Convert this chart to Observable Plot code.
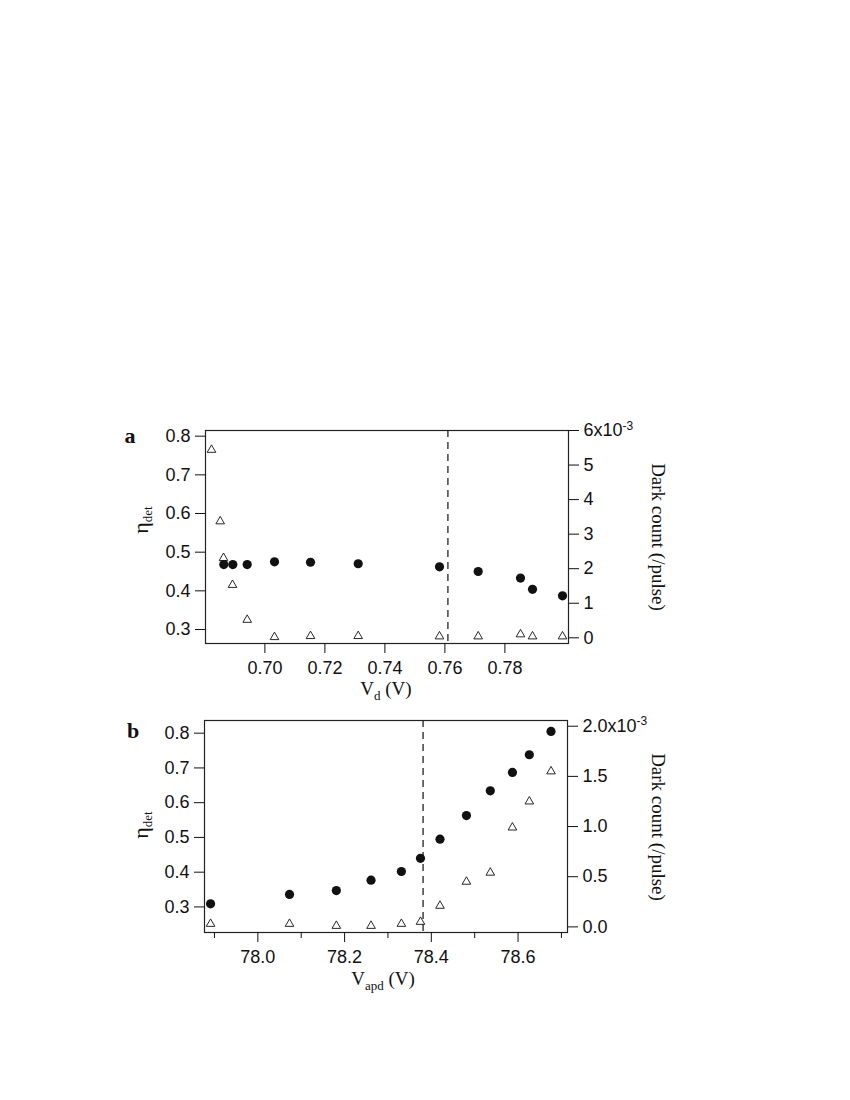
<!DOCTYPE html>
<html>
<head>
<meta charset="utf-8">
<script src="https://cdn.jsdelivr.net/npm/d3@7"></script>
<script src="https://cdn.jsdelivr.net/npm/@observablehq/plot@0.6"></script>
<style>
  html, body { margin: 0; padding: 0; background: #fff; overflow: hidden; }
  #c { position: relative; width: 850px; height: 1100px; }
  #c svg { position: absolute; left: 0; overflow: visible; max-width: none; }
</style>
</head>
<body>
<div id="c"></div>
<script>
// ---------- Panel a data ----------
const vdEtaA  = [0.6863, 0.6893, 0.6941, 0.7032, 0.7152, 0.7311, 0.7582, 0.7711, 0.7852, 0.7892, 0.7992];
const etaA    = [0.468, 0.468, 0.468, 0.475, 0.474, 0.470, 0.462, 0.450, 0.433, 0.404, 0.387];
const vdDarkA = [0.6822, 0.6851, 0.6862, 0.6892, 0.6941, 0.7032, 0.7152, 0.7311, 0.7582, 0.7711, 0.7852, 0.7892, 0.7992];
const darkA   = [5.44, 3.37, 2.31, 1.53, 0.52, 0.02, 0.05, 0.05, 0.04, 0.04, 0.10, 0.04, 0.04]; // x10^-3 /pulse
const dashA   = 0.761;

// ---------- Panel b data ----------
const vapdB = [77.891, 78.073, 78.181, 78.261, 78.331, 78.375, 78.420, 78.481, 78.536, 78.587, 78.626, 78.676];
const etaB  = [0.309, 0.336, 0.347, 0.377, 0.402, 0.440, 0.495, 0.563, 0.634, 0.687, 0.738, 0.805];
const darkB = [0.03, 0.03, 0.01, 0.01, 0.03, 0.05, 0.21, 0.45, 0.54, 0.99, 1.25, 1.55]; // x10^-3 /pulse
const dashB = 78.381;

// ---------- Ticks ----------
const etaTicks     = [0.3, 0.4, 0.5, 0.6, 0.7, 0.8];
const xTicksA      = [0.70, 0.72, 0.74, 0.76, 0.78];
const darkTicksA   = [0, 1, 2, 3, 4, 5, 6];
const darkLabelsA  = ["0", "1", "2", "3", "4", "5", "6x10^-3"];
const xTicksB      = [78.0, 78.2, 78.4, 78.6];
const xMinorB      = [77.9, 78.1, 78.3, 78.5, 78.7];
const darkTicksB   = [0, 0.5, 1.0, 1.5, 2.0];
const darkLabelsB  = ["0.0", "0.5", "1.0", "1.5", "2.0x10^-3"];

const SANS = '"Liberation Sans", Arial, Helvetica, sans-serif';
const SERIF = '"Liberation Serif", "Times New Roman", Times, serif';
const INK = "#111";

function panel(cfg) {
  const [yLo, yHi] = cfg.yDomain;
  const [dLo, dHi] = cfg.dDomain;
  const toY = d => yLo + (d - dLo) / (dHi - dLo) * (yHi - yLo);
  const rightMap = new Map(cfg.darkTicks.map((d, i) => [toY(d), cfg.darkLabels[i]]));
  const circles = cfg.xEta.map((x, i) => ({x, y: cfg.eta[i]}));
  const tris = cfg.xDark.map((x, i) => ({x, y: toY(cfg.dark[i])}));

  const marks = [
    Plot.ruleX([cfg.dash], {stroke: "#333", strokeWidth: 1.4, strokeDasharray: "7,5"}),
    Plot.dot(tris, {x: "x", y: "y", symbol: "triangle", r: 3.2, stroke: INK, strokeWidth: 0.9, fill: "white"}),
    Plot.dot(circles, {x: "x", y: "y", r: 4.6, fill: INK, stroke: "none"}),
    Plot.frame({stroke: "#222", strokeWidth: 1.2}),
    Plot.axisY({anchor: "left", ticks: etaTicks, tickFormat: d3.format(".1f"), tickSize: 10, tickPadding: 5, label: null, stroke: INK, fill: INK, fontSize: 18}),
    Plot.axisY({anchor: "right", ticks: cfg.darkTicks.map(toY), tickFormat: v => rightMap.get(v), tickSize: 10, tickPadding: 5, label: null, stroke: INK, fill: INK, fontSize: 18}),
    Plot.axisX({ticks: cfg.xTicks, tickFormat: cfg.xFormat, tickSize: 10, tickPadding: 8, label: null, stroke: INK, fill: INK, fontSize: 18})
  ];
  if (cfg.xMinor) {
    marks.push(Plot.axisX({ticks: cfg.xMinor, tickFormat: () => "", tickSize: 6, label: null, stroke: INK}));
  }

  const svg = Plot.plot({
    width: 850,
    height: cfg.height,
    marginLeft: cfg.margins[0],
    marginRight: cfg.margins[1],
    marginTop: cfg.margins[2],
    marginBottom: cfg.margins[3],
    x: {domain: cfg.xDomain},
    y: {domain: cfg.yDomain},
    style: {fontFamily: SANS, fontSize: "18px", color: INK, background: "transparent", overflow: "visible"},
    marks
  });
  svg.style.top = cfg.top + "px";

  const s = d3.select(svg);
  // superscript exponent on the top right tick
  s.selectAll("text").each(function () {
    const t = this.textContent;
    if (t && t.includes("^")) {
      const [base, exp] = t.split("^");
      const el = d3.select(this);
      el.text(base);
      el.append("tspan").attr("font-size", 12).attr("dy", "-0.55em").text(exp);
    }
  });

  // panel letter
  s.append("text").attr("x", cfg.letterPos[0]).attr("y", cfg.letterPos[1])
    .attr("font-family", SERIF).attr("font-weight", "bold").attr("font-size", 22).attr("fill", INK)
    .text(cfg.letter);

  // left axis label  η_det
  const ly = s.append("text")
    .attr("transform", `translate(${cfg.etaPos[0]},${cfg.etaPos[1]}) rotate(-90)`)
    .attr("text-anchor", "middle").attr("font-family", SERIF).attr("font-size", 22).attr("fill", INK);
  ly.append("tspan").text("η");
  ly.append("tspan").attr("font-size", 13).attr("dy", 4).text("det");

  // right axis label
  s.append("text")
    .attr("transform", `translate(${cfg.darkPos[0]},${cfg.darkPos[1]}) rotate(90)`)
    .attr("text-anchor", "middle").attr("font-family", SERIF).attr("font-size", 19).attr("fill", INK)
    .text("Dark count (/pulse)");

  // x axis label
  const lx = s.append("text").attr("x", cfg.xLabPos[0]).attr("y", cfg.xLabPos[1])
    .attr("text-anchor", "middle").attr("font-family", SERIF).attr("font-size", 19).attr("fill", INK);
  lx.append("tspan").text("V");
  lx.append("tspan").attr("font-size", 13).attr("dy", 5).text(cfg.xSub);
  lx.append("tspan").attr("dy", -5).text(" (V)");

  document.getElementById("c").appendChild(svg);
}

panel({
  top: 400, height: 310, margins: [205, 282, 30, 67],
  xDomain: [0.6802, 0.8012], yDomain: [0.2638, 0.8147], dDomain: [-0.165, 6.0],
  xEta: vdEtaA, eta: etaA, xDark: vdDarkA, dark: darkA, dash: dashA,
  xTicks: xTicksA, xFormat: d3.format(".2f"),
  darkTicks: darkTicksA, darkLabels: darkLabelsA,
  letter: "a", letterPos: [130, 43],
  etaPos: [148, 120], darkPos: [652, 137], xLabPos: [386, 295], xSub: "d"
});

panel({
  top: 690, height: 310, margins: [204, 283, 30, 68],
  xDomain: [77.877, 78.714], yDomain: [0.2264, 0.8365], dDomain: [-0.056, 2.057],
  xEta: vapdB, eta: etaB, xDark: vapdB, dark: darkB, dash: dashB,
  xTicks: xTicksB, xFormat: d3.format(".1f"), xMinor: xMinorB,
  darkTicks: darkTicksB, darkLabels: darkLabelsB,
  letter: "b", letterPos: [133, 48],
  etaPos: [148, 135], darkPos: [652, 137], xLabPos: [383, 295], xSub: "apd"
});
</script>
</body>
</html>
